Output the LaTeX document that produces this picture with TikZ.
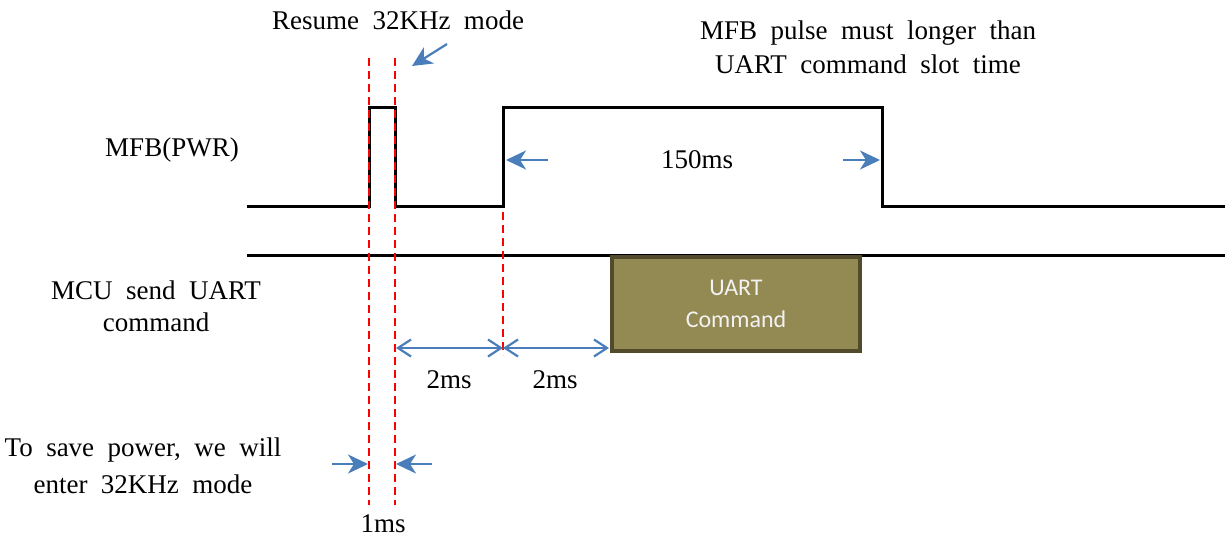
\documentclass[tikz,border=0pt]{standalone}
\usepackage{fontspec}
\setmainfont{Liberation Serif}[WordSpace=2]
\newfontfamily\boxfont{Carlito}
\usetikzlibrary{arrows.meta}
\definecolor{arrowblue}{HTML}{4A7EBB}
\definecolor{boxfill}{HTML}{938953}
\definecolor{boxedge}{HTML}{514A2B}
\definecolor{boxtext}{HTML}{F2F2F2}
\begin{document}
\begin{tikzpicture}[x=1pt,y=-1pt,
  signal/.style={line width=3pt, line join=miter},
  marker/.style={red, line width=2pt, dash pattern=on 8pt off 5pt},
  dimarrow/.style={arrowblue, line width=2.2pt, -{Stealth[length=20pt,width=19pt,inset=6pt]}},
  dimboth/.style={arrowblue, line width=2.2pt, {Straight Barb[length=13pt,width=17pt]}-{Straight Barb[length=13pt,width=17pt]}},
  lbl/.style={font=\fontsize{27}{34}\selectfont, inner sep=0pt, align=center},
  cmdbox/.style={draw=boxedge, fill=boxfill, line width=4pt, minimum width=248pt, minimum height=94pt,
    inner sep=0pt, align=center, text=boxtext, font=\boxfont\fontsize{24}{32}\selectfont},
]
\useasboundingbox (0,0) rectangle (1225,550);

% named reference points
\coordinate (mfbStart) at (247,206);
\coordinate (p1Up) at (369,206);
\coordinate (p1Down) at (395,206);
\coordinate (p2Up) at (503,206);
\coordinate (p2Down) at (882,206);
\coordinate (mfbEnd) at (1225,206);
\coordinate (mcuStart) at (247,255);
\coordinate (mcuEnd) at (1225,255);

% signals
\draw[signal] (mfbStart) -- (p1Up) -- (369,107) -- (395,107) -- (p1Down) -- (p2Up)
  -- (503,107) -- (882,107) -- (p2Down) -- (mfbEnd);
\draw[signal] (mcuStart) -- (mcuEnd);

% UART command box
\node[cmdbox] (uart) at (736,304) {UART\\Command};

% dashed markers
\coordinate (m1Top) at (369,58);  \coordinate (m1Bot) at (369,505);
\coordinate (m2Top) at (395,58);  \coordinate (m2Bot) at (395,505);
\coordinate (m3Top) at (503,212); \coordinate (m3Bot) at (503,355);
\draw[marker] (m1Top) -- (m1Bot);
\draw[marker] (m2Top) -- (m2Bot);
\draw[marker] (m3Top) -- (m3Bot);

% dimension arrows
\coordinate (d1) at (396,348);
\coordinate (d2) at (503,348);
\coordinate (d3) at (609,348);
\draw[dimboth] (d1) -- (d2);
\draw[dimboth] (d2) -- (d3);

\coordinate (w1s) at (548,160); \coordinate (w1e) at (506,160);
\coordinate (w2s) at (843,160); \coordinate (w2e) at (880,160);
\draw[dimarrow] (w1s) -- (w1e);
\draw[dimarrow] (w2s) -- (w2e);

\coordinate (rs) at (447,44); \coordinate (re) at (412,66);
\draw[dimarrow] (rs) -- (re);

\coordinate (a1s) at (332,464); \coordinate (a1e) at (368,464);
\coordinate (a2s) at (432,464); \coordinate (a2e) at (396,464);
\draw[dimarrow] (a1s) -- (a1e);
\draw[dimarrow] (a2s) -- (a2e);

% labels
\node[lbl] (resume) at (398,20) {Resume 32KHz mode};
\node[lbl] (mfbnote) at (868,47) {MFB pulse must longer than\\UART command slot time};
\node[lbl] (mfb) at (172,150) {MFB(PWR)};
\node[lbl, font=\fontsize{27}{32}\selectfont] (mcu) at (156,306) {MCU send UART\\command};
\node[lbl] (t150) at (697,160) {150ms};
\node[lbl] (t2a) at (449,380) {2ms};
\node[lbl] (t2b) at (555,380) {2ms};
\node[lbl, font=\fontsize{27}{37}\selectfont] (save) at (143,466) {To save power, we will\\enter 32KHz mode};
\node[lbl] (t1) at (383,524) {1ms};
\end{tikzpicture}
\end{document}
